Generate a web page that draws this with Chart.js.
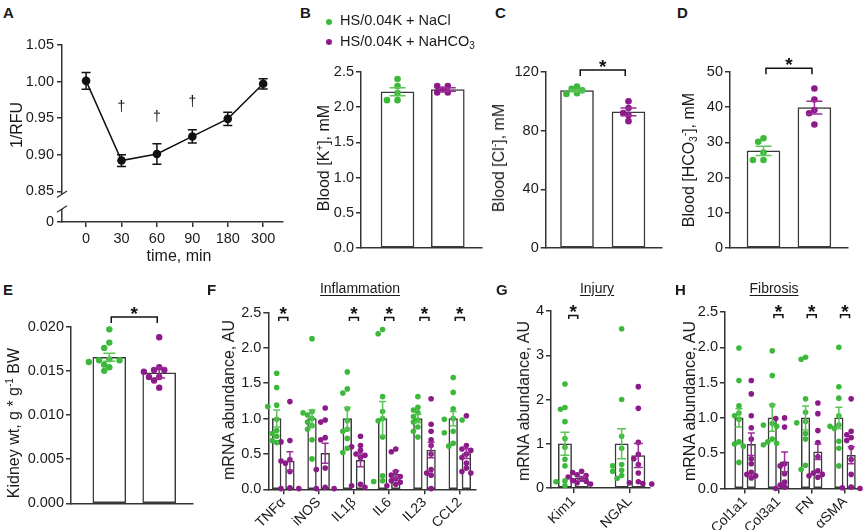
<!DOCTYPE html>
<html>
<head>
<meta charset="utf-8">
<title>Kidney panels</title>
<script src="https://cdn.jsdelivr.net/npm/chart.js@4.4.1/dist/chart.umd.min.js"></script>
<style>
  html, body { margin: 0; padding: 0; background: #fff; }
  body { position: relative; width: 863px; height: 530px; overflow: hidden;
         font-family: "Liberation Sans", Arial, Helvetica, sans-serif; color: #1a1a1a; }
  canvas { position: absolute; }
  .txt { position: absolute; line-height: 1; white-space: nowrap; z-index: 2; }
  .letter { font-weight: bold; font-size: 15px; }
  .ytitle { font-size: 16px; transform: translate(-50%, -50%) rotate(-90deg); }
  .xtitle { font-size: 16px; transform: translateX(-50%); }
  .head { font-size: 14px; text-decoration: underline; text-underline-offset: 2px; transform: translateX(-50%); }
  .leg { font-size: 14.5px; }
  .dot { position: absolute; width: 6px; height: 6px; border-radius: 50%; z-index: 2; }
  sup, sub { font-size: 10px; line-height: 0; }
  sup { vertical-align: 6px; }
  sub { vertical-align: -3px; }
</style>
</head>
<body>
<div class="txt letter" style="left:3px;top:5px">A</div>
<div class="txt letter" style="left:300px;top:5px">B</div>
<div class="txt letter" style="left:495px;top:5px">C</div>
<div class="txt letter" style="left:677px;top:5px">D</div>
<div class="txt letter" style="left:3px;top:282px">E</div>
<div class="txt letter" style="left:207px;top:282px">F</div>
<div class="txt letter" style="left:496px;top:282px">G</div>
<div class="txt letter" style="left:675px;top:282px">H</div>

<div class="txt ytitle" style="left:17px;top:125px">1/RFU</div>
<div class="txt xtitle" style="left:179px;top:248px">time, min</div>
<div class="txt ytitle" style="left:324px;top:158px">Blood [K<sup>+</sup>], mM</div>
<div class="txt ytitle" style="left:499px;top:158px">Blood [Cl<sup>-</sup>], mM</div>
<div class="txt ytitle" style="left:689px;top:160px">Blood [HCO<sub>3</sub><sup>-</sup>], mM</div>
<div class="txt ytitle" style="left:14px;top:423px">Kidney wt, g * g<sup>-1</sup> BW</div>
<div class="txt ytitle" style="left:229px;top:400px">mRNA abundance, AU</div>
<div class="txt ytitle" style="left:524px;top:401px">mRNA abundance, AU</div>
<div class="txt ytitle" style="left:690px;top:401px">mRNA abundance, AU</div>

<div class="txt head" style="left:360px;top:281px">Inflammation</div>
<div class="txt head" style="left:597px;top:281px">Injury</div>
<div class="txt head" style="left:774px;top:281px">Fibrosis</div>

<div class="dot" style="left:326px;top:19px;background:#3cb93a"></div>
<div class="txt leg" style="left:340px;top:13px">HS/0.04K + NaCl</div>
<div class="dot" style="left:326px;top:39px;background:#8c1a89"></div>
<div class="txt leg" style="left:340px;top:34px">HS/0.04K + NaHCO<sub>3</sub></div>

<script>
// ---- A: 1/RFU time course ----
const timeLabels = ['0', '30', '60', '90', '180', '300'];
const rfuMean = [1.001, 0.892, 0.901, 0.925, 0.949, 0.997];
const rfuSem = [0.0115, 0.008, 0.014, 0.009, 0.009, 0.007];
const rfuTicks = [0.85, 0.90, 0.95, 1.00, 1.05];
const rfuDagger = [null, 0.966, 0.953, 0.973, null, null];

// ---- B: blood K ----
const kTicks = [0, 0.5, 1.0, 1.5, 2.0, 2.5];
const kMean = [2.22, 2.25];
const kSem = [0.058, 0.025];
const kNaCl = [2.40, 2.30, 2.20, 2.10, 2.10];
const kBicarb = [2.30, 2.30, 2.25, 2.21, 2.21];

// ---- C: blood Cl ----
const clTicks = [0, 40, 80, 120];
const clMean = [107.3, 92.8];
const clSem = [0.8, 2.6];
const clNaCl = [110, 108.5, 107.5, 105.5, 105];
const clBicarb = [100, 95.5, 92, 90.5, 86.5];

// ---- D: blood HCO3 ----
const hcoTicks = [0, 10, 20, 30, 40, 50];
const hcoMean = [27.6, 39.9];
const hcoSem = [1.3, 1.8];
const hcoNaCl = [31.2, 30.2, 27.1, 25.0, 25.0];
const hcoBicarb = [45.3, 42.2, 39.2, 38.3, 35.1];

// ---- E: kidney weight ----
const kwTicks = [0, 0.005, 0.010, 0.015, 0.020];
const kwMean = [0.01653, 0.01478];
const kwSem = [0.00045, 0.00058];
const kwNaCl = [0.0197, 0.0182, 0.0176, 0.0163, 0.0162, 0.0162, 0.0160, 0.0157, 0.0154, 0.0150];
const kwBicarb = [0.0188, 0.0154, 0.0151, 0.0151, 0.0149, 0.0143, 0.0143, 0.0139, 0.0131];

// ---- F: inflammation ----
const inflamGenes = ['TNFα', 'iNOS', 'IL1β', 'IL6', 'IL23', 'CCL2'];
const inflamMeanNaCl = [1, 1, 1, 1, 1, 1];
const inflamMeanBicarb = [0.40, 0.51, 0.41, 0.21, 0.555, 0.505];
const inflamSemNaCl = [0.12, 0.12, 0.155, 0.24, 0.06, 0.10];
const inflamSemBicarb = [0.13, 0.14, 0.09, 0.05, 0.11, 0.07];
const inflamSig = [1, 0, 1, 1, 1, 1];
const inflamNaCl = [
  [1.64, 1.44, 1.19, 1.17, 0.99, 0.83, 0.79, 0.75, 0.69, 0.66],
  [2.13, 1.10, 1.08, 1.05, 1.00, 0.95, 0.90, 0.85, 0.70, 0.43],
  [1.66, 1.42, 1.36, 1.14, 0.97, 0.85, 0.82, 0.72, 0.58, 0.52],
  [2.26, 2.20, 1.31, 1.10, 1.00, 0.97, 0.74, 0.19, 0.12, 0.11],
  [1.31, 1.16, 1.12, 1.08, 1.03, 0.98, 0.95, 0.88, 0.82, 0.74],
  [1.58, 1.37, 1.14, 1.00, 0.99, 0.98, 0.82, 0.80, 0.65, 0.61]
];
const inflamBicarb = [
  [1.24, 0.69, 0.67, 0.42, 0.40, 0.37, 0.25, 0.02, 0.01, 0.01],
  [1.15, 0.98, 0.95, 0.73, 0.70, 0.30, 0.28, 0.03, 0.01, 0.01],
  [0.75, 0.62, 0.60, 0.55, 0.50, 0.48, 0.45, 0.07, 0.05, 0.03],
  [0.57, 0.53, 0.25, 0.20, 0.18, 0.15, 0.12, 0.10, 0.07, 0.05],
  [1.28, 0.92, 0.82, 0.70, 0.62, 0.50, 0.28, 0.23, 0.20, 0.01],
  [1.04, 0.62, 0.57, 0.55, 0.50, 0.45, 0.37, 0.30, 0.25, 0.23]
];

// ---- G: injury ----
const injuryGenes = ['Kim1', 'NGAL'];
const injuryMeanNaCl = [1, 1];
const injuryMeanBicarb = [0.226, 0.735];
const injurySemNaCl = [0.26, 0.34];
const injurySemBicarb = [0.035, 0.27];
const injurySig = [1, 0];
const injuryNaCl = [
  [2.35, 1.82, 1.78, 1.50, 1.12, 0.92, 0.65, 0.50, 0.16, 0.14, 0.05],
  [3.60, 2.00, 1.17, 0.90, 0.53, 0.50, 0.40, 0.38, 0.28, 0.22]
];
const injuryBicarb = [
  [0.38, 0.35, 0.30, 0.28, 0.25, 0.20, 0.17, 0.15, 0.12, 0.09],
  [2.29, 1.80, 1.03, 0.76, 0.66, 0.53, 0.34, 0.14, 0.12, 0.10, 0.09]
];

// ---- H: fibrosis ----
const fibGenes = ['Col1a1', 'Col3a1', 'FN', 'αSMA'];
const fibMeanNaCl = [1, 1, 1, 1];
const fibMeanBicarb = [0.627, 0.377, 0.52, 0.47];
const fibSemNaCl = [0.13, 0.19, 0.17, 0.15];
const fibSemBicarb = [0.16, 0.14, 0.11, 0.12];
const fibSig = [0, 1, 1, 1];
const fibNaCl = [
  [1.99, 1.53, 1.17, 1.07, 1.03, 0.98, 0.66, 0.63, 0.60, 0.37],
  [1.95, 1.60, 1.18, 0.92, 0.90, 0.88, 0.70, 0.66, 0.64, 0.62],
  [1.86, 1.83, 1.27, 1.08, 0.95, 0.93, 0.78, 0.70, 0.33, 0.27],
  [2.00, 1.44, 1.28, 1.03, 0.90, 0.88, 0.85, 0.67, 0.57, 0.32]
];
const fibBicarb = [
  [1.53, 1.34, 1.03, 0.86, 0.70, 0.42, 0.35, 0.23, 0.20, 0.18, 0.15],
  [1.00, 0.99, 0.87, 0.35, 0.32, 0.21, 0.09, 0.05, 0.02, 0.00],
  [1.21, 1.06, 0.82, 0.65, 0.45, 0.25, 0.22, 0.20, 0.18, 0.16],
  [1.27, 0.81, 0.76, 0.72, 0.68, 0.58, 0.41, 0.20, 0.02, 0.01, 0.00]
];

const GREEN = '#3cb93a';
const PURPLE = '#8c1a89';
const GREEN_ERR = '#5cc459';
const PURPLE_ERR = '#9b2e98';
const AXIS = '#333333';
const BAR_LINE = '#3a3a3a';
const FONT = '"Liberation Sans", Arial, Helvetica, sans-serif';

Chart.defaults.font.family = FONT;
Chart.defaults.font.size = 14;
Chart.defaults.color = '#1a1a1a';
Chart.defaults.animation = false;

function makeCanvas(box) {
  const c = document.createElement('canvas');
  c.width = box.w; c.height = box.h;
  c.style.left = box.l + 'px'; c.style.top = box.t + 'px';
  c.style.width = box.w + 'px'; c.style.height = box.h + 'px';
  document.body.appendChild(c);
  return c;
}

function axisStyle(ticksOn) {
  return {
    border: { display: true, color: AXIS, width: 1.5 },
    grid: { display: true, offset: false, drawOnChartArea: false, drawTicks: ticksOn,
            tickLength: 5, color: AXIS, lineWidth: 1.5 }
  };
}

function swarm(vals, pxY, pxX, r) {
  const placed = [];
  return vals.map(v => {
    const py = v * pxY;
    let off = 0;
    for (let k = 0; k < 15; k++) {
      off = k === 0 ? 0 : (k % 2 ? -1 : 1) * Math.ceil(k / 2) * r * 1.6;
      if (placed.every(p => Math.hypot(p.x - off, p.y - py) >= r * 1.7)) break;
    }
    placed.push({ x: off, y: py });
    return off / pxX;
  });
}

function errPlugin(specs, cap) {
  return {
    id: 'errbars',
    afterDatasetsDraw(chart) {
      const { ctx, scales: { x, y } } = chart;
      ctx.save();
      ctx.lineWidth = 1.5;
      specs.forEach(s => s.mean.forEach((m, i) => {
        const px = x.getPixelForValue(s.xf(i));
        const top = y.getPixelForValue(m + s.sem[i]);
        const bot = y.getPixelForValue(m - s.sem[i]);
        ctx.strokeStyle = s.color;
        ctx.beginPath();
        ctx.moveTo(px, top); ctx.lineTo(px, bot);
        ctx.moveTo(px - cap, top); ctx.lineTo(px + cap, top);
        ctx.moveTo(px - cap, bot); ctx.lineTo(px + cap, bot);
        ctx.stroke();
      }));
      ctx.restore();
    }
  };
}

function sigPlugin(p, xg, xp) {
  return {
    id: 'sig',
    afterDraw(chart) {
      const { ctx, scales: { x, y } } = chart;
      const ty = y.getPixelForValue(p.sigY);
      ctx.save();
      ctx.strokeStyle = '#111';
      ctx.fillStyle = '#111';
      ctx.lineWidth = 1.5;
      ctx.font = 'bold ' + p.star + 'px ' + FONT;
      ctx.textAlign = 'center';
      const m = ctx.measureText('*');
      p.sig.forEach((s, i) => {
        if (!s) return;
        const cx = (x.getPixelForValue(xg(i)) + x.getPixelForValue(xp(i))) / 2;
        ctx.beginPath();
        ctx.moveTo(cx - p.bh, ty + p.leg); ctx.lineTo(cx - p.bh, ty);
        ctx.lineTo(cx + p.bh, ty); ctx.lineTo(cx + p.bh, ty + p.leg);
        ctx.stroke();
        ctx.fillText('*', cx, ty - 3 - m.actualBoundingBoxDescent);
      });
      ctx.restore();
    }
  };
}

function barPanel(p) {
  const { box, plot } = p;
  const cv = makeCanvas(box);
  const yMax = p.yTicks[p.yTicks.length - 1];
  const pxX = (plot.x1 - plot.x0) / (p.xMax - p.xMin);
  const pxY = (plot.y1 - plot.y0) / yMax;
  const xg = i => i - p.dx;
  const xp = i => i + p.dx;
  const pts = (groups, xf) => groups.flatMap((vals, i) => {
    const off = swarm(vals, pxY, pxX, p.r);
    return vals.map((v, k) => ({ x: xf(i) + off[k], y: v }));
  });
  const scatter = (data, color) => ({
    type: 'scatter', data, backgroundColor: color, borderColor: color,
    pointRadius: p.r, pointBorderWidth: 0, clip: false, order: 1
  });
  const bars = (data) => ({
    type: 'bar', data, backgroundColor: '#ffffff', borderColor: BAR_LINE,
    borderWidth: 1.5, borderSkipped: false, barThickness: p.barW, grouped: false, order: 2
  });
  const labels = p.cats;
  const plugins = [errPlugin([
    { xf: xg, mean: p.gMean, sem: p.gSem, color: GREEN_ERR },
    { xf: xp, mean: p.pMean, sem: p.pSem, color: PURPLE_ERR }
  ], p.cap)];
  if (p.sig) plugins.push(sigPlugin(p, xg, xp));
  new Chart(cv, {
    type: 'bar',
    data: {
      datasets: [
        scatter(pts(p.gPts, xg), GREEN),
        scatter(pts(p.pPts, xp), PURPLE),
        bars(p.gMean.map((v, i) => ({ x: xg(i), y: v }))),
        bars(p.pMean.map((v, i) => ({ x: xp(i), y: v })))
      ]
    },
    options: {
      responsive: false,
      layout: { padding: { left: 0, bottom: 0, top: plot.y0 - box.t, right: box.l + box.w - plot.x1 } },
      plugins: { legend: { display: false }, tooltip: { enabled: false } },
      scales: {
        x: {
          type: 'linear', min: p.xMin, max: p.xMax, offset: false,
          ...axisStyle(!!labels),
          afterBuildTicks: s => { s.ticks = labels ? labels.map((c, i) => ({ value: i })) : []; },
          afterFit: s => { s.height = box.t + box.h - plot.y1; },
          ticks: {
            display: !!labels, autoSkip: false, minRotation: 45, maxRotation: 45, padding: 0,
            callback: v => labels ? labels[Math.round(v)] : ''
          }
        },
        y: {
          type: 'linear', min: 0, max: yMax,
          ...axisStyle(true),
          afterBuildTicks: s => { s.ticks = p.yTicks.map(v => ({ value: v })); },
          afterFit: s => { s.width = plot.x0 - box.l; },
          ticks: { padding: 2, font: { size: 14.5 }, callback: v => v.toFixed(p.dec) }
        }
      }
    },
    plugins
  });
}

// ---- panel A ----
(function () {
  const box = { l: 0, t: 25, w: 295, h: 225 };
  const plot = { x0: 62, x1: 283, y0: 45, y1: 222 };
  const breakVal = 0.808;
  const cv = makeCanvas(box);
  const dagger = {
    id: 'dagger',
    afterDraw(chart) {
      const { ctx, scales: { x, y } } = chart;
      ctx.save();
      ctx.font = '14px ' + FONT;
      ctx.textAlign = 'center';
      ctx.fillStyle = '#111';
      const m = ctx.measureText('†');
      rfuDagger.forEach((v, i) => {
        if (v == null) return;
        const cy = y.getPixelForValue(v);
        ctx.fillText('†', x.getPixelForValue(i),
          cy - (m.actualBoundingBoxDescent - m.actualBoundingBoxAscent) / 2);
      });
      ctx.restore();
    }
  };
  const axisBreak = {
    id: 'axisBreak',
    afterDraw(chart) {
      const { ctx, chartArea, scales: { y } } = chart;
      const ax = chartArea.left;
      const yA = y.getPixelForValue(rfuTicks[0]) + 3;
      const yB = chartArea.bottom - 13;
      ctx.save();
      ctx.fillStyle = '#ffffff';
      ctx.fillRect(ax - 3, yA, 6, yB - yA);
      ctx.strokeStyle = AXIS;
      ctx.lineWidth = 1.3;
      ctx.beginPath();
      [yA, yB].forEach(yy => { ctx.moveTo(ax - 5, yy + 3.3); ctx.lineTo(ax + 5, yy - 3.3); });
      ctx.stroke();
      ctx.restore();
    }
  };
  new Chart(cv, {
    type: 'line',
    data: {
      datasets: [{
        data: rfuMean.map((v, i) => ({ x: i, y: v })),
        borderColor: '#111', borderWidth: 1.5, tension: 0, fill: false,
        pointRadius: 4.3, pointBackgroundColor: '#111', pointBorderWidth: 0, clip: false
      }]
    },
    options: {
      responsive: false,
      layout: { padding: { left: 0, bottom: 0, top: plot.y0 - box.t, right: box.l + box.w - plot.x1 } },
      plugins: { legend: { display: false }, tooltip: { enabled: false } },
      scales: {
        x: {
          type: 'linear', min: -0.68, max: 5.56, ...axisStyle(true),
          afterBuildTicks: s => { s.ticks = timeLabels.map((t, i) => ({ value: i })); },
          afterFit: s => { s.height = box.t + box.h - plot.y1; },
          ticks: { autoSkip: false, maxRotation: 0, padding: 3, font: { size: 14.5 },
                   callback: v => timeLabels[Math.round(v)] }
        },
        y: {
          type: 'linear', min: breakVal, max: rfuTicks[rfuTicks.length - 1], ...axisStyle(true),
          afterBuildTicks: s => { s.ticks = [breakVal, ...rfuTicks].map(v => ({ value: v })); },
          afterFit: s => { s.width = plot.x0 - box.l; },
          ticks: { padding: 3, font: { size: 14.5 }, callback: v => v === breakVal ? '0' : v.toFixed(2) }
        }
      }
    },
    plugins: [errPlugin([{ xf: i => i, mean: rfuMean, sem: rfuSem, color: '#111' }], 4.5), dagger, axisBreak]
  });
})();

// ---- panels B-H ----
barPanel({
  box: { l: 330, t: 55, w: 165, h: 215 }, plot: { x0: 361, x1: 482, y0: 72, y1: 248 },
  xMin: -1.226, xMax: 1.18, dx: 0.5, barW: 33, r: 3.3, cap: 8, dec: 1,
  yTicks: kTicks, gMean: [kMean[0]], pMean: [kMean[1]], gSem: [kSem[0]], pSem: [kSem[1]],
  gPts: [kNaCl], pPts: [kBicarb]
});
barPanel({
  box: { l: 505, t: 55, w: 165, h: 215 }, plot: { x0: 545.7, x1: 661.7, y0: 72, y1: 248 },
  xMin: -1.108, xMax: 1.145, dx: 0.5, barW: 33, r: 3.3, cap: 8, dec: 0,
  yTicks: clTicks, gMean: [clMean[0]], pMean: [clMean[1]], gSem: [clSem[0]], pSem: [clSem[1]],
  gPts: [clNaCl], pPts: [clBicarb],
  sig: [1], sigY: 121.4, bh: 22.5, leg: 6, star: 19
});
barPanel({
  box: { l: 695, t: 55, w: 163, h: 215 }, plot: { x0: 730, x1: 847.7, y0: 72, y1: 248 },
  xMin: -1.158, xMax: 1.154, dx: 0.5, barW: 33, r: 3.3, cap: 8, dec: 0,
  yTicks: hcoTicks, gMean: [hcoMean[0]], pMean: [hcoMean[1]], gSem: [hcoSem[0]], pSem: [hcoSem[1]],
  gPts: [hcoNaCl], pPts: [hcoBicarb],
  sig: [1], sigY: 51.1, bh: 23, leg: 6, star: 19
});
barPanel({
  box: { l: 20, t: 300, w: 185, h: 225 }, plot: { x0: 71, x1: 192.7, y0: 326.7, y1: 503.3 },
  xMin: -1.268, xMax: 1.171, dx: 0.5, barW: 33, r: 3.2, cap: 6, dec: 3,
  yTicks: kwTicks, gMean: [kwMean[0]], pMean: [kwMean[1]], gSem: [kwSem[0]], pSem: [kwSem[1]],
  gPts: [kwNaCl], pPts: [kwBicarb],
  sig: [1], sigY: 0.0211, bh: 23, leg: 6, star: 19
});
barPanel({
  box: { l: 215, t: 295, w: 265, h: 235 }, plot: { x0: 268.3, x1: 477.3, y0: 312.5, y1: 489.3 },
  xMin: -0.425, xMax: 5.459, dx: 0.187, barW: 8.7, r: 2.8, cap: 3.5, dec: 1,
  yTicks: [0, 0.5, 1.0, 1.5, 2.0, 2.5], cats: inflamGenes,
  gMean: inflamMeanNaCl, pMean: inflamMeanBicarb, gSem: inflamSemNaCl, pSem: inflamSemBicarb,
  gPts: inflamNaCl, pPts: inflamBicarb,
  sig: inflamSig, sigY: 2.43, bh: 4.5, leg: 3.5, star: 19
});
barPanel({
  box: { l: 522, t: 295, w: 135, h: 235 }, plot: { x0: 551, x1: 650, y0: 311, y1: 488 },
  xMin: -0.393, xMax: 1.353, dx: 0.147, barW: 13.3, r: 2.8, cap: 4.5, dec: 0,
  yTicks: [0, 1, 2, 3, 4], cats: injuryGenes,
  gMean: injuryMeanNaCl, pMean: injuryMeanBicarb, gSem: injurySemNaCl, pSem: injurySemBicarb,
  gPts: injuryNaCl, pPts: injuryBicarb,
  sig: injurySig, sigY: 3.9, bh: 4.5, leg: 3.5, star: 19
});
barPanel({
  box: { l: 695, t: 295, w: 168, h: 235 }, plot: { x0: 725, x1: 861, y0: 312, y1: 488.5 },
  xMin: -0.604, xMax: 3.42, dx: 0.185, barW: 8.5, r: 2.8, cap: 3.5, dec: 1,
  yTicks: [0, 0.5, 1.0, 1.5, 2.0, 2.5], cats: fibGenes,
  gMean: fibMeanNaCl, pMean: fibMeanBicarb, gSem: fibSemNaCl, pSem: fibSemBicarb,
  gPts: fibNaCl, pPts: fibBicarb,
  sig: fibSig, sigY: 2.46, bh: 4.5, leg: 3.5, star: 19
});
</script>
</body>
</html>
